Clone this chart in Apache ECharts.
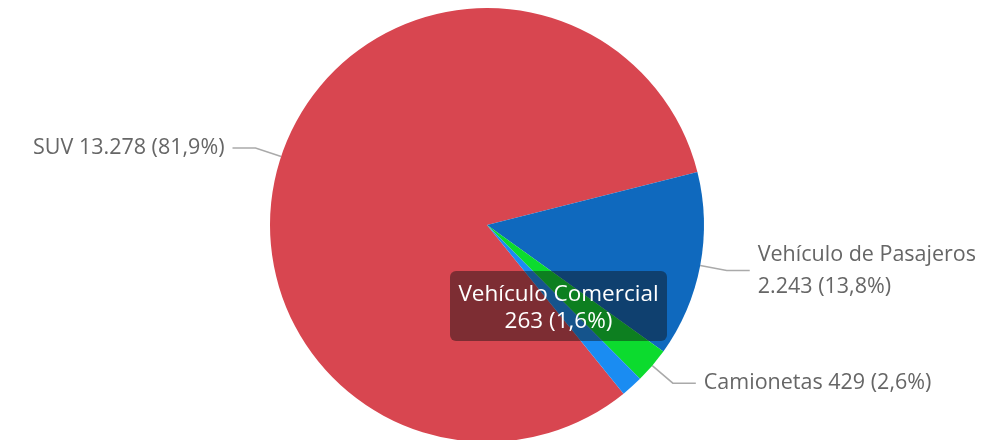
<!DOCTYPE html>
<html>
<head>
<meta charset="utf-8">
<script src="https://cdn.jsdelivr.net/npm/echarts@6/dist/echarts.min.js"></script>
<style>
  html, body { margin: 0; padding: 0; background: #fff; }
  #chart { width: 991px; height: 440px; }
</style>
</head>
<body>
<div id="chart"></div>
<script>
// datos del gráfico
const categorias = ['SUV', 'Vehículo de Pasajeros', 'Camionetas', 'Vehículo Comercial'];
const valores = [13278, 2243, 429, 263];
const colores = ['#d84650', '#0f69be', '#0cdb2e', '#1a8cf2'];

const total = valores.reduce((a, b) => a + b, 0);

// formato español: 13.278 y 81,9
const fmtNum = v => v.toString().replace(/\B(?=(\d{3})+(?!\d))/g, '.');
const fmtPct = v => (v * 100 / total).toFixed(1).replace('.', ',');

const myChart = echarts.init(document.getElementById('chart'));

const option = {
    backgroundColor: '#fff',
    textStyle: { fontFamily: '"Open Sans", sans-serif' },
    tooltip: {
        trigger: 'item',
        alwaysShowContent: true,
        position: [450, 271],
        backgroundColor: 'rgba(15,15,15,0.45)',
        borderWidth: 0,
        padding: [8, 8],
        extraCssText: 'box-shadow:none;border-radius:6px;text-align:center;width:201px;',
        textStyle: { color: '#fff', fontSize: 22.5, fontFamily: '"Open Sans", sans-serif', lineHeight: 27 },
        formatter: p => `${p.name}<br/>${fmtNum(p.value)} (${fmtPct(p.value)}%)`
    },
    series: [{
        type: 'pie',
        center: [487, 225],
        radius: 217,
        startAngle: 309,
        animation: false,
        data: categorias.map((c, i) => ({
            name: c,
            value: valores[i],
            itemStyle: { color: colores[i] },
            // la etiqueta del comercial no se ve, solo el tooltip
            label: { show: c !== 'Vehículo Comercial' },
            labelLine: { show: c !== 'Vehículo Comercial' }
        })),
        label: {
            color: '#666',
            fontSize: 21.5,
            lineHeight: 32,
            overflow: 'none',
            distanceToLabelLine: 8,
            formatter: p => p.name === 'Vehículo de Pasajeros'
                ? `${p.name}\n${fmtNum(p.value)} (${fmtPct(p.value)}%)`
                : `${p.name} ${fmtNum(p.value)} (${fmtPct(p.value)}%)`
        },
        labelLine: {
            length: 27,
            length2: 23,
            lineStyle: { color: '#aaa', width: 1.5 }
        },
        emphasis: { scale: false, focus: 'none' }
    }]
};

myChart.setOption(option);
myChart.dispatchAction({ type: 'showTip', seriesIndex: 0, dataIndex: 3 });
</script>
</body>
</html>
